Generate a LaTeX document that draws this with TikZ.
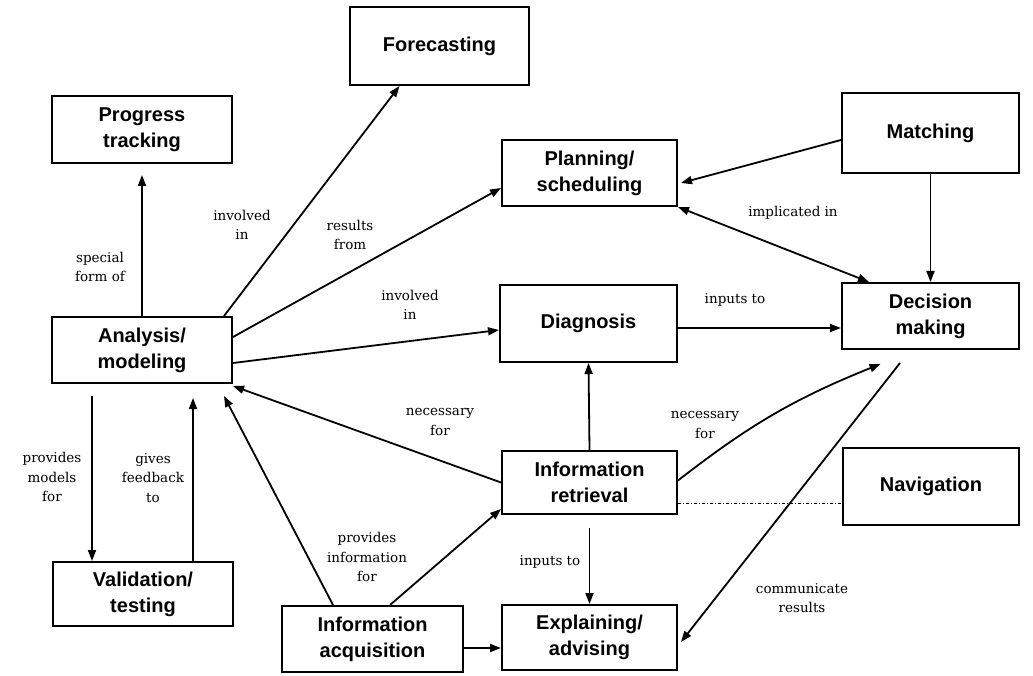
\documentclass[tikz,border=0pt]{standalone}
\usepackage{fontspec}
\setmainfont{DejaVu Serif}
\newfontfamily\boxfont{Liberation Sans}[BoldFont={Liberation Sans Bold}]
\usetikzlibrary{arrows.meta}
\begin{document}
\begin{tikzpicture}[x=1pt,y=-1pt,
  task/.style={draw, line width=2pt, align=center, inner sep=0pt,
    font=\boxfont\bfseries\fontsize{20}{26}\selectfont},
  rel/.style={line width=1.8pt, -{Triangle[length=11pt,width=8pt]}},
  lbl/.style={align=center, inner sep=0pt,
    font=\fontsize{13.5}{19.5}\selectfont}]
\useasboundingbox (0,0) rectangle (1033,676);

% activity boxes
\node[task, minimum width=179pt, minimum height=78pt] (fore)  at (439.5,46)  {Forecasting};
\node[task, minimum width=180pt, minimum height=67pt] (prog)  at (142,129.5) {Progress\\tracking};
\node[task, minimum width=175pt, minimum height=66pt] (plan)  at (589.5,173) {Planning/\\scheduling};
\node[task, minimum width=177pt, minimum height=80pt] (match) at (930.5,133) {Matching};
\node[task, minimum width=180pt, minimum height=66pt] (ana)   at (142,350)   {Analysis/\\modeling};
\node[task, minimum width=177pt, minimum height=77pt] (diag)  at (588.5,323.5) {Diagnosis};
\node[task, minimum width=177pt, minimum height=66pt] (dec)   at (930.5,316) {Decision\\making};
\node[task, minimum width=175pt, minimum height=63pt] (ret)   at (589.5,482.5) {Information\\retrieval};
\node[task, minimum width=176pt, minimum height=77pt] (nav)   at (931,486.5) {Navigation};
\node[task, minimum width=180pt, minimum height=64pt] (val)   at (143,594)   {Validation/\\testing};
\node[task, minimum width=181pt, minimum height=66pt] (acq)   at (372.5,639) {Information\\acquisition};
\node[task, minimum width=175pt, minimum height=65pt] (exp)   at (589.5,637.5) {Explaining/\\advising};

% relations
\draw[rel, shorten >=11pt] (ana.north) -- (prog.south);
\draw[rel] ([xshift=-9pt]ana.north east) -- ([xshift=-40pt]fore.south);
\draw[rel] ([yshift=13pt]ana.east) -- ([yshift=-15pt]plan.west);
\draw[rel] ([yshift=-13pt]ana.east) -- ([yshift=-6.5pt]diag.west);
\draw[rel] (ret.west) -- ([yshift=-2pt]ana.south east);
\draw[rel] ([xshift=-39.5pt]acq.north) -- ([xshift=-9pt,yshift=-12pt]ana.south east);
\draw[rel] ([xshift=17.5pt]acq.north) -- ([yshift=6pt]ret.south west);
\draw[rel] ([yshift=-9pt]acq.east) -- ([yshift=-9pt]acq.east -| exp.west);
\draw[rel, shorten <=12pt] ([xshift=-50pt]ana.south) -- ([xshift=-50pt]ana.south |- val.north);
\draw[rel, shorten >=14pt] ([xshift=50pt]val.north) -- ([xshift=50pt]val.north |- ana.south);
\draw[rel] (ret.north) -- (diag.south);
\draw[rel] ([yshift=2pt]ret.east) to[bend left=8] ([xshift=-50pt,yshift=-14pt]dec.south);
\draw[line width=1pt, dash dot] ([yshift=-20.5pt]ret.east) -- ([yshift=-20.5pt]ret.east -| nav.west);
\draw[rel] ([xshift=-30.5pt,yshift=-13pt]dec.south) -- ([xshift=3pt,yshift=-4.5pt]exp.east);
\draw[rel, shorten <=13pt] (ret.south) -- (exp.north);
\draw[rel] ([yshift=-4.5pt]diag.east) -- ([yshift=-4.5pt]diag.east -| dec.west);
\draw[rel] ([yshift=-7pt]match.west) -- ([xshift=3pt,yshift=-10pt]plan.east);
\draw[rel] (match.south) -- (match.south |- dec.north);
\draw[line width=1.8pt, {Triangle[length=11pt,width=8pt]}-{Triangle[length=11pt,width=8pt]}]
  (plan.south east) -- ([xshift=28pt]dec.north west);

% relation labels
\node[lbl] (l1)  at (100,267) {special\\form of};
\node[lbl] (l2)  at (242,225) {involved\\in};
\node[lbl] (l3)  at (350,235) {results\\from};
\node[lbl] (l4)  at (410,305) {involved\\in};
\node[lbl] (l5)  at (793,213) {implicated in};
\node[lbl] (l6)  at (735,300) {inputs to};
\node[lbl] (l7)  at (440,422) {necessary\\for};
\node[lbl] (l8)  at (705,425) {necessary\\for};
\node[lbl] (l9)  at (52,477)  {provides\\models\\for};
\node[lbl] (l10) at (153,478) {gives\\feedback\\to};
\node[lbl] (l11) at (367,557) {provides\\information\\for};
\node[lbl] (l12) at (550,562) {inputs to};
\node[lbl] (l13) at (802,598) {communicate\\results};
\end{tikzpicture}
\end{document}
